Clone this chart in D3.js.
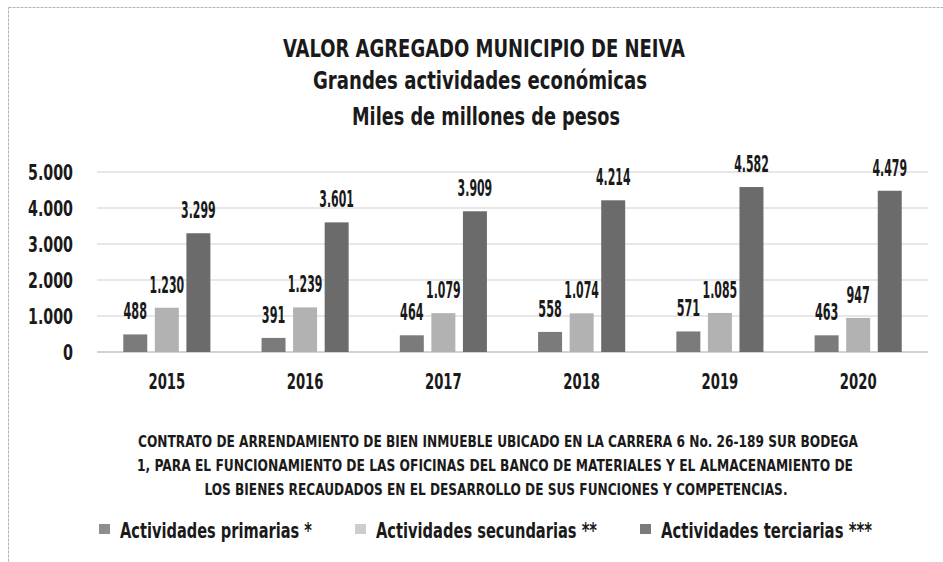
<!DOCTYPE html>
<html>
<head>
<meta charset="utf-8">
<script src="https://cdn.jsdelivr.net/npm/d3@7"></script>
<style>
  body { margin: 0; background: #fff; }
  svg { display: block; }
  text { font-family: "DejaVu Sans Condensed", "Liberation Sans Narrow", sans-serif; font-weight: bold; fill: #1a1a1a; }
  .grid line { stroke: #cfcfcf; stroke-width: 1.2; }
</style>
</head>
<body>
<div class="chart"></div>
<script>
// data
const years = ['2015', '2016', '2017', '2018', '2019', '2020'];
const primarias = [488, 391, 464, 558, 571, 463];
const secundarias = [1230, 1239, 1079, 1074, 1085, 947];
const terciarias = [3299, 3601, 3909, 4214, 4582, 4479];
const seriesNames = ['Actividades primarias *', 'Actividades secundarias **', 'Actividades terciarias ***'];
const yTicks = [0, 1000, 2000, 3000, 4000, 5000];
const titleLines = ['VALOR AGREGADO MUNICIPIO DE NEIVA', 'Grandes actividades económicas', 'Miles de millones de pesos'];
const noteLines = [
  'CONTRATO DE ARRENDAMIENTO  DE BIEN INMUEBLE  UBICADO EN LA CARRERA 6 No. 26-189  SUR BODEGA',
  '1, PARA  EL FUNCIONAMIENTO  DE LAS OFICINAS  DEL BANCO DE MATERIALES Y EL ALMACENAMIENTO DE',
  'LOS BIENES  RECAUDADOS EN EL DESARROLLO  DE SUS FUNCIONES  Y COMPETENCIAS.'
];

const width = 943, height = 562;
const keys = ['p', 's', 't'];
const colors = ['#7b7b7b', '#b2b2b2', '#6b6b6b'];

const data = years.map((y, i) => ({year: y, p: primarias[i], s: secundarias[i], t: terciarias[i]}));

const fmt = d3.formatLocale({decimal: ',', thousands: '.', grouping: [3], currency: ['$', '']}).format(',d');

// the original font is very condensed, so force number widths
function fitNumbers(sel, digitW, dotW) {
  sel.attr('textLength', function() {
    const s = this.textContent;
    const dots = (s.match(/\./g) || []).length;
    return (s.length - dots) * digitW + dots * dotW;
  })
  .attr('lengthAdjust', 'spacingAndGlyphs');
}

const svg = d3.select('.chart').append('svg')
  .attr('width', width)
  .attr('height', height);

svg.append('rect')
  .attr('x', 8.5).attr('y', 7.5)
  .attr('width', width).attr('height', height)
  .attr('fill', '#fff')
  .attr('stroke', '#b5b5b5')
  .attr('stroke-dasharray', '3,1');

const x0 = d3.scaleBand()
  .domain(years)
  .range([97, 928])
  .paddingInner(0.37)
  .paddingOuter(0.19);

const x1 = d3.scaleBand()
  .domain(keys)
  .range([0, x0.bandwidth()])
  .paddingInner(0.24);

const y = d3.scaleLinear()
  .domain([0, 5000])
  .range([352, 172]);

const color = d3.scaleOrdinal().domain(keys).range(colors);

// gridlines
svg.append('g')
  .attr('class', 'grid')
  .selectAll('line')
  .data(yTicks)
  .enter()
  .append('line')
  .attr('x1', 97).attr('x2', 928)
  .attr('y1', d => y(d)).attr('y2', d => y(d))
  .style('stroke', d => d === 0 ? '#a8a8a8' : null);

// y axis labels
const yAxis = d3.axisLeft(y).tickValues(yTicks).tickFormat(fmt).tickSize(0).tickPadding(0);
const yg = svg.append('g')
  .attr('transform', 'translate(73,0)')
  .call(yAxis);
yg.select('.domain').remove();
yg.selectAll('text')
  .style('font-size', '22px')
  .attr('dy', '0.36em')
  .call(fitNumbers, 10, 5);

// bars
const groups = svg.selectAll('.group')
  .data(data)
  .enter()
  .append('g')
  .attr('class', 'group')
  .attr('transform', d => `translate(${x0(d.year)},0)`);

groups.selectAll('rect')
  .data(d => keys.map(k => ({key: k, value: d[k]})))
  .enter()
  .append('rect')
  .attr('x', d => x1(d.key))
  .attr('y', d => y(d.value))
  .attr('width', x1.bandwidth())
  .attr('height', d => y(0) - y(d.value))
  .attr('fill', d => color(d.key));

groups.selectAll('.val')
  .data(d => keys.map(k => ({key: k, value: d[k]})))
  .enter()
  .append('text')
  .attr('class', 'val')
  .attr('x', d => x1(d.key) + x1.bandwidth() / 2)
  .attr('y', d => y(d.value) - 15)
  .attr('text-anchor', 'middle')
  .style('font-size', '23px')
  .text(d => fmt(d.value))
  .call(fitNumbers, 7.8, 3.4);

// x axis labels
const xAxis = d3.axisBottom(x0).tickSize(0).tickPadding(0);
const xg = svg.append('g')
  .attr('transform', 'translate(0,373)')
  .call(xAxis);
xg.select('.domain').remove();
xg.selectAll('text')
  .attr('dy', '0.72em')
  .style('font-size', '22px')
  .call(fitNumbers, 9.2, 4);

// titles
const titleX = [484, 480, 486];
const titleY = [57, 89, 125];
const titleW = [402, 334, 268];
svg.selectAll('.title')
  .data(titleLines)
  .enter()
  .append('text')
  .attr('class', 'title')
  .attr('x', (d, i) => titleX[i])
  .attr('y', (d, i) => titleY[i])
  .attr('text-anchor', 'middle')
  .attr('textLength', (d, i) => titleW[i])
  .attr('lengthAdjust', 'spacingAndGlyphs')
  .style('font-size', '24px')
  .text(d => d);

// footnote
const noteX = [498, 495, 496];
const noteY = [447, 471, 495];
const noteW = [720, 716, 583];
svg.selectAll('.note')
  .data(noteLines)
  .enter()
  .append('text')
  .attr('class', 'note')
  .attr('x', (d, i) => noteX[i])
  .attr('y', (d, i) => noteY[i])
  .attr('text-anchor', 'middle')
  .attr('textLength', (d, i) => noteW[i])
  .attr('lengthAdjust', 'spacingAndGlyphs')
  .style('font-size', '16px')
  .text(d => d);

// legend
const legX = [99, 355, 640];
const legW = [192, 221, 211];
const legend = svg.selectAll('.legend')
  .data(seriesNames)
  .enter()
  .append('g')
  .attr('class', 'legend')
  .attr('transform', (d, i) => `translate(${legX[i]},524)`);

legend.append('rect')
  .attr('width', 11)
  .attr('height', 10)
  .attr('fill', (d, i) => d3.color(colors[i]).brighter(0.4));

legend.append('text')
  .attr('x', 21)
  .attr('y', 14)
  .attr('textLength', (d, i) => legW[i])
  .attr('lengthAdjust', 'spacingAndGlyphs')
  .style('font-size', '22px')
  .text(d => d);
</script>
</body>
</html>
